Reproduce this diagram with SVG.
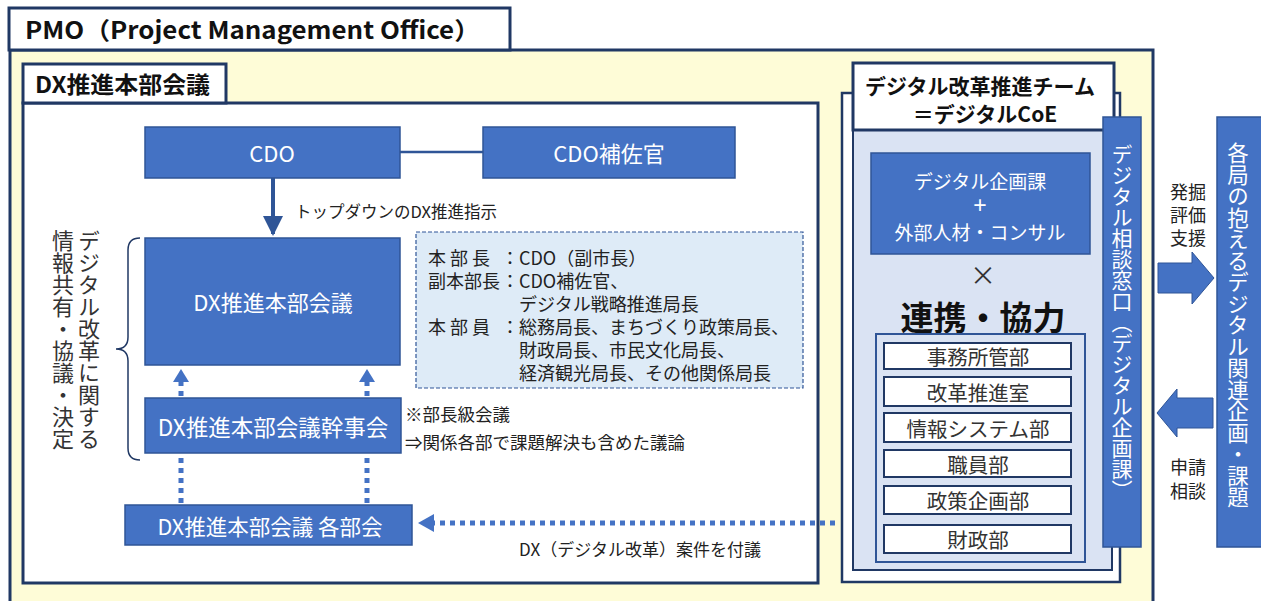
<svg xmlns="http://www.w3.org/2000/svg" width="1261" height="601" viewBox="0 0 1261 601">
<style>
text{font-family:"Noto Sans CJK JP","Noto Sans",sans-serif;}
.frame{stroke:#203864;stroke-width:3;}
.box{fill:#4472c4;stroke:#2f5597;stroke-width:1.5;}
.wt{fill:#fff;text-anchor:middle;dominant-baseline:central;}
.dk{fill:#222;}
.dept{fill:#fff;stroke:#203864;stroke-width:2;}
.dl{fill:#333;font-size:20.5px;text-anchor:middle;dominant-baseline:central;}
.dot{stroke:#4472c4;stroke-width:5;stroke-dasharray:5 5;fill:none;}
.vt{writing-mode:vertical-rl;text-anchor:middle;}
.ttl{font-weight:bold;fill:#111;}
</style>
<defs>
<marker id="ah" viewBox="0 0 10 10" refX="9" refY="5" markerWidth="5" markerHeight="5" orient="auto"><path d="M0,0 L10,5 L0,10 z" fill="#2f5597"/></marker>
</defs>
<rect width="1261" height="601" fill="#fff"/>

<g id="pmo">
<rect x="10" y="50" width="1143" height="565" fill="#fefcd7" class="frame"/>
<rect x="9" y="8" width="501" height="42" fill="#fff" class="frame"/>
<text x="25" y="39" class="ttl" style="font-size:24px" textLength="455" lengthAdjust="spacingAndGlyphs">PMO（Project Management Office）</text>
</g>

<g id="dx-frame">
<rect x="23" y="103" width="795" height="480" fill="#fff" class="frame"/>
<rect x="23" y="64" width="203" height="39" fill="#fff" class="frame"/>
<text x="35" y="93" class="ttl" style="font-size:23px" textLength="175" lengthAdjust="spacingAndGlyphs">DX推進本部会議</text>
</g>

<g id="connectors">
<line x1="400" y1="152" x2="483" y2="152" stroke="#2f5597" stroke-width="2.5"/>
<line x1="273" y1="178" x2="273" y2="234" stroke="#2f5597" stroke-width="4" marker-end="url(#ah)"/>
<line x1="181" y1="396" x2="181" y2="380" class="dot"/>
<polygon points="173,382 181,369 189,382" fill="#4472c4"/>
<line x1="367" y1="396" x2="367" y2="380" class="dot"/>
<polygon points="359,382 367,369 375,382" fill="#4472c4"/>
<line x1="181" y1="458" x2="181" y2="505" class="dot"/>
<line x1="367" y1="458" x2="367" y2="505" class="dot"/>
<line x1="835" y1="523" x2="434" y2="523" class="dot"/>
<polygon points="434,514 418,523 434,532" fill="#4472c4"/>
<path d="M140,238 Q128,238 128,250 L128,337 Q128,349 116,349 Q128,349 128,361 L128,448 Q128,460 140,460" fill="none" stroke="#203864" stroke-width="1.5"/>
<polygon points="1158,263 1192,263 1192,252 1214,278 1192,304 1192,293 1158,293" fill="#4472c4" stroke="#2f5597" stroke-width="1"/>
<polygon points="1213,398 1177,398 1177,389 1157,413 1177,437 1177,428 1213,428" fill="#4472c4" stroke="#2f5597" stroke-width="1"/>
</g>

<g id="cdo">
<rect x="145" y="127" width="255" height="51" class="box"/>
<text x="272" y="152" class="wt" style="font-size:22px">CDO</text>
</g>
<g id="cdo-hosa">
<rect x="483" y="127" width="252" height="51" class="box"/>
<text x="609" y="152" class="wt" style="font-size:22px">CDO補佐官</text>
</g>
<text x="295" y="211" class="dk" style="font-size:16.5px;dominant-baseline:central">トップダウンのDX推進指示</text>

<g id="dx-honbu">
<rect x="145" y="238" width="255" height="127" class="box"/>
<text x="273" y="301" class="wt" style="font-size:22px">DX推進本部会議</text>
</g>

<g id="members">
<rect x="416" y="232" width="387" height="156" fill="#deebf7" stroke="#2f5597" stroke-width="1.2" stroke-dasharray="4 2"/>
<g class="dk" style="font-size:18px;dominant-baseline:central">
<text y="257"><tspan x="428">本 部 長</tspan><tspan x="501">：CDO（副市長）</tspan></text>
<text y="280"><tspan x="428">副本部長</tspan><tspan x="501">：CDO補佐官、</tspan></text>
<text x="519" y="303">デジタル戦略推進局長</text>
<text y="326"><tspan x="428">本 部 員</tspan><tspan x="501">：総務局長、まちづくり政策局長、</tspan></text>
<text x="519" y="349">財政局長、市民文化局長、</text>
<text x="519" y="372">経済観光局長、その他関係局長</text>
</g>
</g>

<g id="kanji">
<rect x="145" y="398" width="256" height="55" class="box"/>
<text x="273" y="426" class="wt" style="font-size:22.5px">DX推進本部会議幹事会</text>
</g>
<text x="405" y="413" class="dk" style="font-size:17.5px;dominant-baseline:central">※部長級会議</text>
<text x="405" y="441" class="dk" style="font-size:17.5px;dominant-baseline:central">⇒関係各部で課題解決も含めた議論</text>

<g id="bukai">
<rect x="125" y="505" width="287" height="40" class="box"/>
<text x="270" y="525" class="wt" style="font-size:21.5px">DX推進本部会議 各部会</text>
</g>
<text x="640" y="548" class="dk" style="font-size:17px;text-anchor:middle;dominant-baseline:central">DX（デジタル改革）案件を付議</text>

<g id="left-label" style="font-size:22px;fill:#333">
<text x="89" y="340" class="vt">デジタル改革に関する</text>
<text x="63" y="340" class="vt">情報共有・協議・決定</text>
</g>

<g id="coe">
<rect x="842" y="93" width="278" height="489" fill="#fff" stroke="#203864" stroke-width="2.5"/>
<rect x="853" y="128" width="259" height="442" fill="#dae3f3" stroke="#203864" stroke-width="2"/>
<rect x="853" y="63" width="261" height="67" fill="#fff" class="frame"/>
<text x="980" y="85" class="ttl" style="font-size:21px;text-anchor:middle;dominant-baseline:central">デジタル改革推進チーム</text>
<text x="985" y="113" class="ttl" style="font-size:21px;text-anchor:middle;dominant-baseline:central">＝デジタルCoE</text>
</g>

<g id="kikaku">
<rect x="871" y="153" width="219" height="101" class="box"/>
<text x="980" y="180" class="wt" style="font-size:19px">デジタル企画課</text>
<text x="980" y="205" class="wt" style="font-size:23px;font-family:'Liberation Sans',sans-serif">+</text>
<text x="980" y="231" class="wt" style="font-size:19px">外部人材・コンサル</text>
</g>
<text x="983" y="273" style="font-size:26px;fill:#333;text-anchor:middle;dominant-baseline:central">×</text>
<text x="983" y="316" class="ttl" style="font-size:33px;text-anchor:middle;dominant-baseline:central">連携・協力</text>

<g id="depts">
<rect x="876" y="334" width="209" height="228" fill="#dae3f3" stroke="#2f5597" stroke-width="2"/>
<g id="d1"><rect x="884" y="343" width="187" height="26" class="dept"/><text x="978" y="356" class="dl">事務所管部</text></g>
<g id="d2"><rect x="884" y="377" width="187" height="29" class="dept"/><text x="978" y="392" class="dl">改革推進室</text></g>
<g id="d3"><rect x="884" y="413" width="187" height="29" class="dept"/><text x="978" y="428" class="dl">情報システム部</text></g>
<g id="d4"><rect x="884" y="450" width="187" height="27" class="dept"/><text x="978" y="464" class="dl">職員部</text></g>
<g id="d5"><rect x="884" y="486" width="187" height="28" class="dept"/><text x="978" y="500" class="dl">政策企画部</text></g>
<g id="d6"><rect x="884" y="525" width="187" height="28" class="dept"/><text x="978" y="539" class="dl">財政部</text></g>
</g>

<g id="soudan">
<rect x="1103" y="117" width="38" height="430" class="box"/>
<text x="1122" y="322" class="vt" style="font-size:21px;fill:#fff">デジタル相談窓口（デジタル企画課）</text>
</g>

<g id="kakukyoku">
<rect x="1217" y="117" width="50" height="430" class="box"/>
<text x="1238" y="325" class="vt" style="font-size:21.5px;fill:#fff">各局の抱えるデジタル関連企画・課題</text>
</g>

<g style="font-size:18px;fill:#222;text-anchor:middle;dominant-baseline:central">
<text x="1188" y="191">発掘</text>
<text x="1188" y="214">評価</text>
<text x="1188" y="237">支援</text>
<text x="1188" y="466">申請</text>
<text x="1188" y="490">相談</text>
</g>
</svg>
